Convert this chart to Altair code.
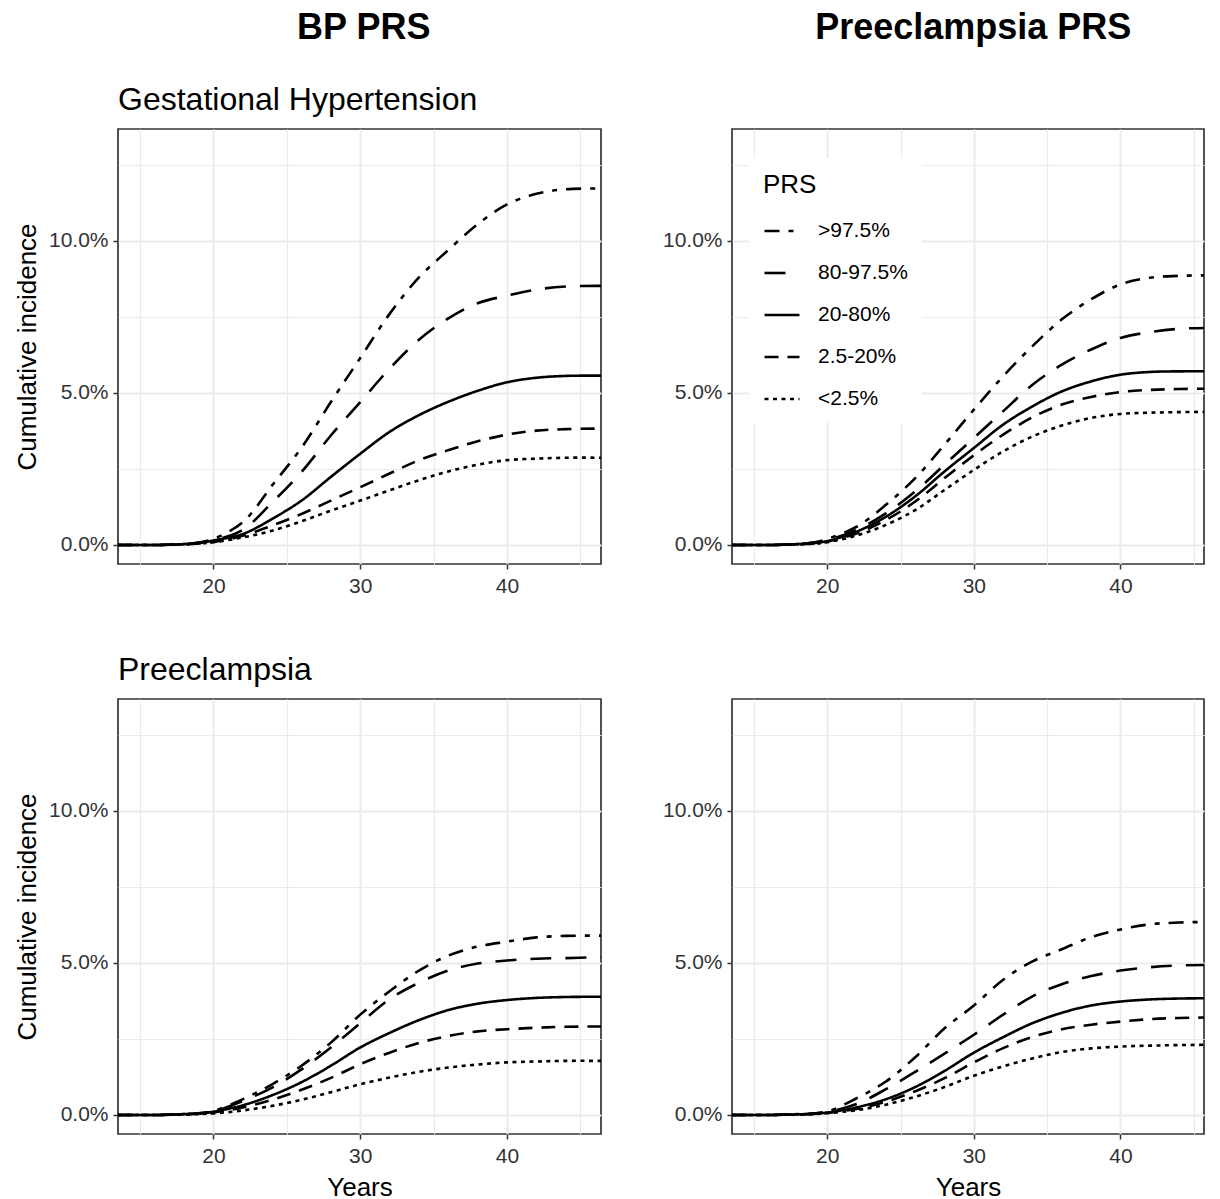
import altair as alt
import pandas as pd

FONT = "Liberation Sans"

AGES = [13.5, 16, 17, 18, 19, 20, 22, 24, 26, 28, 30, 32, 34, 36, 38, 40, 42, 44, 46.4]
GROUPS = [">97.5%", "80-97.5%", "20-80%", "2.5-20%", "<2.5%"]

# Gestational Hypertension - BP PRS (cumulative incidence, %)
GH_BP_GT975 = [0, 0, 0.01, 0.03, 0.08, 0.2, 0.75, 1.96, 3.2, 4.7, 6.15, 7.6, 8.8, 9.7, 10.55, 11.2, 11.55, 11.7, 11.72]
GH_BP_80 = [0, 0, 0.01, 0.03, 0.07, 0.15, 0.5, 1.4, 2.4, 3.6, 4.7, 5.8, 6.75, 7.45, 7.95, 8.2, 8.4, 8.5, 8.52]
GH_BP_20 = [0, 0, 0.01, 0.03, 0.07, 0.15, 0.36, 0.86, 1.46, 2.24, 3.0, 3.72, 4.27, 4.71, 5.07, 5.35, 5.5, 5.56, 5.57]
GH_BP_2 = [0, 0, 0.01, 0.02, 0.05, 0.1, 0.3, 0.64, 1.02, 1.46, 1.9, 2.35, 2.79, 3.12, 3.41, 3.63, 3.76, 3.81, 3.83]
GH_BP_LT = [0, 0, 0.01, 0.02, 0.05, 0.09, 0.25, 0.47, 0.78, 1.13, 1.46, 1.8, 2.13, 2.42, 2.64, 2.79, 2.84, 2.87, 2.87]

# Gestational Hypertension - Preeclampsia PRS
GH_PE_GT975 = [0, 0, 0.01, 0.03, 0.08, 0.2, 0.6, 1.32, 2.2, 3.3, 4.45, 5.55, 6.54, 7.42, 8.08, 8.57, 8.79, 8.85, 8.87]
GH_PE_80 = [0, 0, 0.01, 0.03, 0.07, 0.16, 0.5, 1.04, 1.76, 2.64, 3.52, 4.4, 5.27, 5.93, 6.43, 6.81, 7.0, 7.11, 7.14]
GH_PE_20 = [0, 0, 0.01, 0.03, 0.06, 0.13, 0.44, 0.93, 1.6, 2.42, 3.19, 3.96, 4.56, 5.05, 5.38, 5.6, 5.69, 5.71, 5.71]
GH_PE_2 = [0, 0, 0.01, 0.02, 0.05, 0.11, 0.38, 0.82, 1.43, 2.2, 2.95, 3.63, 4.2, 4.62, 4.87, 5.03, 5.1, 5.13, 5.14]
GH_PE_LT = [0, 0, 0.01, 0.02, 0.04, 0.09, 0.31, 0.66, 1.15, 1.81, 2.47, 3.08, 3.57, 3.93, 4.18, 4.31, 4.35, 4.37, 4.38]

# Preeclampsia - BP PRS
PE_BP_GT975 = [0, 0, 0.01, 0.03, 0.06, 0.13, 0.52, 1.01, 1.62, 2.38, 3.3, 4.07, 4.75, 5.24, 5.54, 5.7, 5.84, 5.89, 5.9]
PE_BP_80 = [0, 0, 0.01, 0.03, 0.05, 0.11, 0.46, 0.9, 1.5, 2.22, 3.02, 3.81, 4.35, 4.75, 4.98, 5.08, 5.14, 5.16, 5.19]
PE_BP_20 = [0, 0, 0.01, 0.03, 0.05, 0.11, 0.32, 0.65, 1.08, 1.62, 2.22, 2.7, 3.12, 3.45, 3.66, 3.78, 3.85, 3.88, 3.89]
PE_BP_2 = [0, 0, 0.01, 0.02, 0.04, 0.08, 0.25, 0.5, 0.83, 1.22, 1.67, 2.05, 2.37, 2.6, 2.75, 2.82, 2.87, 2.9, 2.91]
PE_BP_LT = [0, 0, 0.01, 0.01, 0.03, 0.05, 0.15, 0.3, 0.5, 0.75, 1.01, 1.23, 1.42, 1.56, 1.66, 1.73, 1.76, 1.78, 1.78]

# Preeclampsia - Preeclampsia PRS
PE_PE_GT975 = [0, 0, 0.01, 0.03, 0.05, 0.11, 0.55, 1.1, 1.9, 2.85, 3.6, 4.45, 5.05, 5.45, 5.85, 6.1, 6.27, 6.33, 6.35]
PE_PE_80 = [0, 0, 0.01, 0.02, 0.05, 0.1, 0.36, 0.85, 1.42, 2.02, 2.64, 3.3, 3.9, 4.3, 4.57, 4.75, 4.86, 4.92, 4.93]
PE_PE_20 = [0, 0, 0.01, 0.02, 0.04, 0.08, 0.25, 0.52, 0.92, 1.45, 2.05, 2.56, 3.02, 3.36, 3.6, 3.73, 3.8, 3.83, 3.84]
PE_PE_2 = [0, 0, 0.01, 0.02, 0.03, 0.07, 0.2, 0.44, 0.78, 1.21, 1.73, 2.2, 2.57, 2.82, 2.97, 3.07, 3.15, 3.19, 3.21]
PE_PE_LT = [0, 0, 0.01, 0.01, 0.03, 0.06, 0.16, 0.34, 0.6, 0.92, 1.29, 1.6, 1.86, 2.07, 2.19, 2.25, 2.28, 2.3, 2.31]

X_TICKS = [15, 20, 25, 30, 35, 40, 45]
Y_TICKS = [0, 0.025, 0.05, 0.075, 0.1, 0.125]
DASHES = [[15, 9, 5, 9], [21, 14], [1, 0], [14, 9], [4, 4.5]]

X_MAJOR = "datum.value % 10 == 0"
Y_MAJOR = "abs(datum.value * 20 - round(datum.value * 20)) < 0.001"


def panel(series, xmax, width, ytitle, xtitle, title, legend):
    rows = []
    for g, vals in zip(GROUPS, series):
        for a, v in zip(AGES, vals):
            rows.append({"age": a, "inc": v / 100.0, "prs": g})
    df = pd.DataFrame(rows)

    xaxis = alt.Axis(
        values=X_TICKS,
        labelExpr=X_MAJOR + " ? datum.label : ''",
        tickOpacity={"condition": {"test": X_MAJOR, "value": 1}, "value": 0},
        gridWidth={"condition": {"test": X_MAJOR, "value": 2}, "value": 1.2},
        labelPadding=6,
        titlePadding=8,
    )
    yaxis = alt.Axis(
        values=Y_TICKS,
        format=".1%",
        labelExpr=Y_MAJOR + " ? datum.label : ''",
        tickOpacity={"condition": {"test": Y_MAJOR, "value": 1}, "value": 0},
        gridWidth={"condition": {"test": Y_MAJOR, "value": 2}, "value": 1.2},
        labelPadding=5,
        titlePadding=8,
    )
    if legend:
        leg = alt.Legend(
            orient="none", legendX=17, legendY=29, title="PRS",
            titleFontSize=26, titleFontWeight="normal", titleFont=FONT,
            titleColor="black", titlePadding=14,
            labelFontSize=21, labelFont=FONT, labelColor="black",
            symbolType="stroke", symbolSize=1225, symbolStrokeWidth=2.6,
            symbolStrokeColor="black", fillColor="white", padding=14,
            rowPadding=13, labelOffset=17,
        )
    else:
        leg = None

    ch = alt.Chart(df).mark_line(
        color="black", strokeWidth=2.6, interpolate="catmull-rom", clip=True
    ).encode(
        x=alt.X("age:Q", scale=alt.Scale(domain=[13.5, xmax], nice=False, zero=False),
                axis=xaxis, title="Years" if xtitle else None),
        y=alt.Y("inc:Q", scale=alt.Scale(domain=[-0.00625, 0.1368], nice=False, zero=False),
                axis=yaxis, title="Cumulative incidence" if ytitle else None),
        strokeDash=alt.StrokeDash("prs:N", scale=alt.Scale(domain=GROUPS, range=DASHES),
                                  legend=leg),
    ).properties(
        width=width, height=435,
        title=alt.TitleParams(title, anchor="start", frame="group", fontSize=32,
                              fontWeight="normal", baseline="alphabetic", offset=-13,
                              font=FONT, color="black"),
    )
    return ch


tl = panel([GH_BP_GT975, GH_BP_80, GH_BP_20, GH_BP_2, GH_BP_LT], 46.4, 483, True, False,
           "Gestational Hypertension", False)
tr = panel([GH_PE_GT975, GH_PE_80, GH_PE_20, GH_PE_2, GH_PE_LT], 45.7, 472, False, False,
           " ", True)
bl = panel([PE_BP_GT975, PE_BP_80, PE_BP_20, PE_BP_2, PE_BP_LT], 46.4, 483, True, True,
           "Preeclampsia", False)
br = panel([PE_PE_GT975, PE_PE_80, PE_PE_20, PE_PE_2, PE_PE_LT], 45.7, 472, False, True,
           " ", False)

left = alt.vconcat(tl, bl, spacing=56).resolve_scale(strokeDash="independent").resolve_legend(
    strokeDash="independent").properties(
    title=alt.TitleParams("BP PRS", fontSize=36, fontWeight="bold", anchor="middle", dx=56,
                          offset=8, baseline="alphabetic", font=FONT, color="black"))
right = alt.vconcat(tr, br, spacing=56).resolve_scale(strokeDash="independent").resolve_legend(
    strokeDash="independent").properties(
    title=alt.TitleParams("Preeclampsia PRS", fontSize=36, fontWeight="bold", anchor="middle",
                          dx=40, offset=8, baseline="alphabetic", font=FONT, color="black"))

chart = alt.hconcat(left, right, spacing=59).resolve_scale(
    strokeDash="independent").resolve_legend(strokeDash="independent").properties(
    padding={"left": 5, "top": 2, "right": 5, "bottom": 0}
).configure_view(
    stroke="#333333", strokeWidth=1.7
).configure_axis(
    labelFont=FONT, labelFontSize=21, labelColor="#333333",
    titleFont=FONT, titleFontSize=26, titleFontWeight="normal", titleColor="black",
    tickColor="#333333", tickSize=5, tickWidth=1.5, domain=False,
    gridColor="#ebebeb",
)

chart.save("out.html", embed_options={"renderer": "svg", "actions": False})
